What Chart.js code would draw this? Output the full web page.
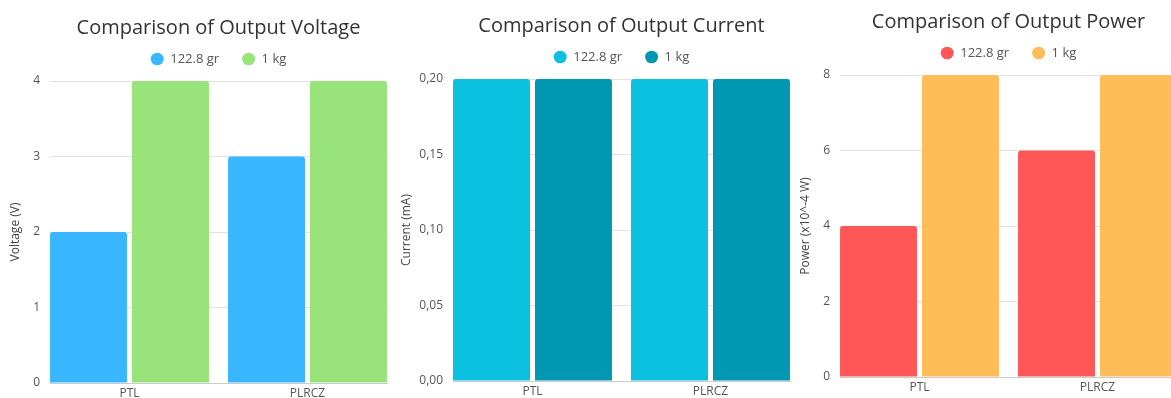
<!DOCTYPE html>
<html lang="en">
<head>
    <meta charset="UTF-8">
    <title>Output Comparison</title>
    <script src="https://cdn.jsdelivr.net/npm/chart.js"></script>
    <style>
        html, body {
            margin: 0;
            padding: 0;
            overflow: hidden;
            background-color: #ffffff;
        }
        body {
            position: relative;
            width: 1171px;
            height: 398px;
        }
        canvas {
            position: absolute;
        }
        #voltageChart { left: 0; top: 0; }
        #currentChart { left: 391px; top: -2px; }
        #powerChart { left: 790px; top: -6px; }
    </style>
</head>
<body>
    <canvas id="voltageChart" width="437" height="398"></canvas>
    <canvas id="currentChart" width="461" height="398"></canvas>
    <canvas id="powerChart" width="437" height="398"></canvas>

    <script>
        const categories = ['PTL', 'PLRCZ'];
        const seriesNames = ['122.8 gr', '1 kg'];

        const voltageLight = [2, 3];
        const voltageHeavy = [4, 4];
        const currentLight = [0.20, 0.20];
        const currentHeavy = [0.20, 0.20];
        const powerLight = [4, 6];
        const powerHeavy = [8, 8];

        Chart.defaults.font.family = "'Open Sans', sans-serif";

        // legend sits a bit further from the plot than chart.js allows
        const legendGap = {
            id: 'legendGap',
            beforeLayout(chart) {
                const legend = chart.legend;
                if (!legend || legend.gapPatched) return;
                const fit = legend.fit;
                legend.fit = function () {
                    fit.call(this);
                    this.height += 5.5;
                };
                legend.gapPatched = true;
            }
        };

        function chartOptions(title, yTitle, yMax, yStep, yWidth, tickFormat) {
            return {
                responsive: false,
                animation: false,
                categoryPercentage: 0.921,
                barPercentage: 0.939,
                layout: { padding: 0 },
                plugins: {
                    title: {
                        display: true,
                        text: title,
                        color: '#333333',
                        font: { size: 20, weight: 'normal' },
                        padding: { top: 16, bottom: -10.5 }
                    },
                    legend: {
                        labels: {
                            color: '#555555',
                            font: { size: 13 },
                            usePointStyle: true,
                            pointStyle: 'circle',
                            pointStyleWidth: 13,
                            boxHeight: 9,
                            padding: 23
                        }
                    },
                    tooltip: { enabled: false }
                },
                scales: {
                    x: {
                        grid: { display: false, drawTicks: false },
                        border: { display: true, color: '#cccccc' },
                        ticks: { color: '#555555', font: { size: 12 }, padding: 3 },
                        // groups touch the plot edges, so squeeze the category range
                        afterBuildTicks: scale => {
                            scale._startValue = -0.4466;
                            scale._valueRange = 1.8933;
                        },
                        afterFit: scale => { scale.height = 15; }
                    },
                    y: {
                        min: 0,
                        max: yMax,
                        grid: { color: '#e2e2e2', drawTicks: false },
                        border: { display: false },
                        ticks: {
                            stepSize: yStep,
                            color: '#555555',
                            font: { size: 12 },
                            padding: 10,
                            callback: tickFormat
                        },
                        title: {
                            display: true,
                            text: yTitle,
                            color: '#444444',
                            font: { size: 12 },
                            padding: { top: 8, bottom: 0 }
                        },
                        afterFit: scale => {
                            scale.width = yWidth;
                            scale.paddingBottom = 0;
                        }
                    },
                    // empty axis on the right keeps title and legend centred over the plot
                    spacer: {
                        type: 'linear',
                        position: 'right',
                        grid: { display: false },
                        border: { display: false },
                        ticks: { display: false },
                        afterFit: scale => {
                            scale.width = yWidth;
                            scale.paddingBottom = 0;
                        }
                    }
                }
            };
        }

        new Chart(document.getElementById('voltageChart'), {
            type: 'bar',
            data: {
                labels: categories,
                datasets: [{
                    label: seriesNames[0],
                    data: voltageLight,
                    backgroundColor: '#38b6ff',
                    borderRadius: 3
                }, {
                    label: seriesNames[1],
                    data: voltageHeavy,
                    backgroundColor: '#98e47a',
                    borderRadius: 3
                }]
            },
            options: chartOptions('Comparison of Output Voltage', 'Voltage (V)', 4, 1, 50, v => v),
            plugins: [legendGap]
        });

        new Chart(document.getElementById('currentChart'), {
            type: 'bar',
            data: {
                labels: categories,
                datasets: [{
                    label: seriesNames[0],
                    data: currentLight,
                    backgroundColor: '#0cc0df',
                    borderRadius: 3
                }, {
                    label: seriesNames[1],
                    data: currentHeavy,
                    backgroundColor: '#0097b2',
                    borderRadius: 3
                }]
            },
            options: chartOptions('Comparison of Output Current', 'Current (mA)', 0.2, 0.05, 62,
                v => v.toFixed(2).replace('.', ',')),
            plugins: [legendGap]
        });

        new Chart(document.getElementById('powerChart'), {
            type: 'bar',
            data: {
                labels: categories,
                datasets: [{
                    label: seriesNames[0],
                    data: powerLight,
                    backgroundColor: '#ff5757',
                    borderRadius: 3
                }, {
                    label: seriesNames[1],
                    data: powerHeavy,
                    backgroundColor: '#ffbd59',
                    borderRadius: 3
                }]
            },
            options: chartOptions('Comparison of Output Power', 'Power (x10^-4 W)', 8, 2, 50, v => v),
            plugins: [legendGap]
        });
    </script>
</body>
</html>
